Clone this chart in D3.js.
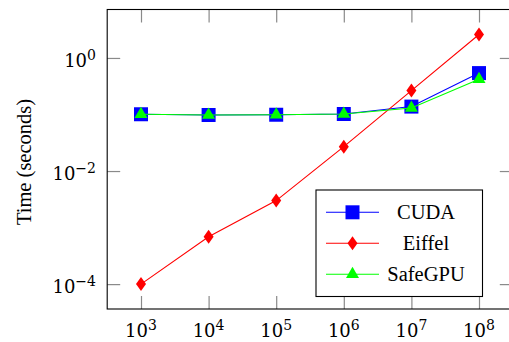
<!DOCTYPE html>
<html>
<head>
<meta charset="utf-8">
<script src="https://cdn.jsdelivr.net/npm/d3@7"></script>
<style>
  html, body { margin: 0; padding: 0; background: #fff; }
  svg { display: block; }
</style>
</head>
<body>
<svg id="chart" width="509" height="342"></svg>
<script>
// Problem sizes (x axis) and measured run times in seconds
const sizes = [1e3, 1e4, 1e5, 1e6, 1e7, 1e8];
const cudaTimes = [0.101, 0.098, 0.099, 0.102, 0.138, 0.54];
const eiffelTimes = [1.0e-4, 6.9e-4, 3.0e-3, 0.027, 0.265, 2.6];
const safeGpuTimes = [0.101, 0.098, 0.099, 0.102, 0.13, 0.42];

const seriesNames = ["CUDA", "Eiffel", "SafeGPU"];
const seriesColors = ["#0000ff", "#ff0000", "#00ff00"];
const seriesMarkers = ["square", "diamond", "triangle"];

const xTickExponents = [3, 4, 5, 6, 7, 8];
const yTickExponents = [0, -2, -4];

const textFont = "Liberation Serif";
const numFont = "DejaVu Serif";

const svg = d3.select("#chart");

const plot = { left: 107.2, right: 512.8, top: 9.5, bottom: 309 };

const x = d3.scaleLog().domain([Math.pow(10, 2.5), Math.pow(10, 8.5)])
  .range([plot.left, plot.right]);
const y = d3.scaleLog().domain([Math.pow(10, -4.44), Math.pow(10, 0.857)])
  .range([plot.bottom, plot.top]);

const tickLen = 13;
const tickColor = "#8a8a8a";

// Inward ticks on all four sides
function styleTicks(g) {
  g.select(".domain").remove();
  g.selectAll(".tick line").attr("stroke", tickColor).attr("stroke-width", 1.2);
}

const xVals = xTickExponents.map(e => Math.pow(10, e));
const yVals = yTickExponents.map(e => Math.pow(10, e));

svg.append("g").attr("transform", `translate(0,${plot.bottom})`)
  .call(d3.axisBottom(x).tickValues(xVals).tickSize(-tickLen).tickFormat(""))
  .call(styleTicks);
svg.append("g").attr("transform", `translate(0,${plot.top})`)
  .call(d3.axisTop(x).tickValues(xVals).tickSize(-tickLen).tickFormat(""))
  .call(styleTicks);
svg.append("g").attr("transform", `translate(${plot.left},0)`)
  .call(d3.axisLeft(y).tickValues(yVals).tickSize(-tickLen).tickFormat(""))
  .call(styleTicks);
svg.append("g").attr("transform", `translate(${plot.right},0)`)
  .call(d3.axisRight(y).tickValues(yVals).tickSize(-tickLen).tickFormat(""))
  .call(styleTicks);

// Power-of-ten tick labels
function powerLabel(sel, exp) {
  sel.attr("font-family", numFont).attr("fill", "#000");
  sel.append("tspan").text("10").attr("font-size", 18);
  sel.append("tspan").text(String(exp).replace("-", "\u2212"))
    .attr("font-size", 14).attr("dy", -7.5);
}

xTickExponents.forEach(e => {
  const t = svg.append("text")
    .attr("x", x(Math.pow(10, e)))
    .attr("y", 337)
    .attr("text-anchor", "middle");
  powerLabel(t, e);
});
yTickExponents.forEach(e => {
  const t = svg.append("text")
    .attr("x", 96)
    .attr("y", y(Math.pow(10, e)) + 9.3)
    .attr("text-anchor", "end");
  powerLabel(t, e);
});

// Axis title
svg.append("text")
  .attr("transform", `translate(31,162) rotate(-90)`)
  .attr("text-anchor", "middle")
  .attr("font-family", textFont)
  .attr("font-size", 20.5)
  .text("Time (seconds)");

// Marker shapes
function markerPath(kind) {
  if (kind === "square") return "M-7,-7H7V7H-7Z";
  if (kind === "diamond") return "M0,-7L5,0L0,7L-5,0Z";
  const r = 7.5;
  const c = r * Math.cos(Math.PI / 6);
  return `M0,${-r}L${c},${r / 2}L${-c},${r / 2}Z`;
}

const allSeries = [cudaTimes, eiffelTimes, safeGpuTimes];
const line = d3.line().x(d => x(d[0])).y(d => y(d[1]));

allSeries.forEach((vals, i) => {
  const pts = sizes.map((s, j) => [s, vals[j]]);
  const g = svg.append("g");
  g.append("path").attr("d", line(pts))
    .attr("fill", "none").attr("stroke", seriesColors[i]).attr("stroke-width", 1.1);
  g.selectAll("path.m").data(pts).join("path").attr("class", "m")
    .attr("transform", d => `translate(${x(d[0])},${y(d[1])})`)
    .attr("d", markerPath(seriesMarkers[i]))
    .attr("fill", seriesColors[i]);
});

// Plot frame
svg.append("rect")
  .attr("x", plot.left).attr("y", plot.top)
  .attr("width", plot.right - plot.left).attr("height", plot.bottom - plot.top)
  .attr("fill", "none").attr("stroke", "#000").attr("stroke-width", 1.1);

// Legend
const legend = svg.append("g");
legend.append("rect")
  .attr("x", 316).attr("y", 190).attr("width", 166.5).attr("height", 106.5)
  .attr("fill", "#fff").attr("stroke", "#000").attr("stroke-width", 1.1);
seriesNames.forEach((name, i) => {
  const cy = 212.3 + i * 31;
  legend.append("line").attr("x1", 326).attr("x2", 379).attr("y1", cy).attr("y2", cy)
    .attr("stroke", seriesColors[i]).attr("stroke-width", 1.1);
  legend.append("path").attr("transform", `translate(352.5,${cy})`)
    .attr("d", markerPath(seriesMarkers[i])).attr("fill", seriesColors[i]);
  legend.append("text").attr("x", 426).attr("y", cy + 7)
    .attr("text-anchor", "middle")
    .attr("font-family", textFont).attr("font-size", 20.5)
    .attr("fill", "#000")
    .text(name);
});
</script>
</body>
</html>
